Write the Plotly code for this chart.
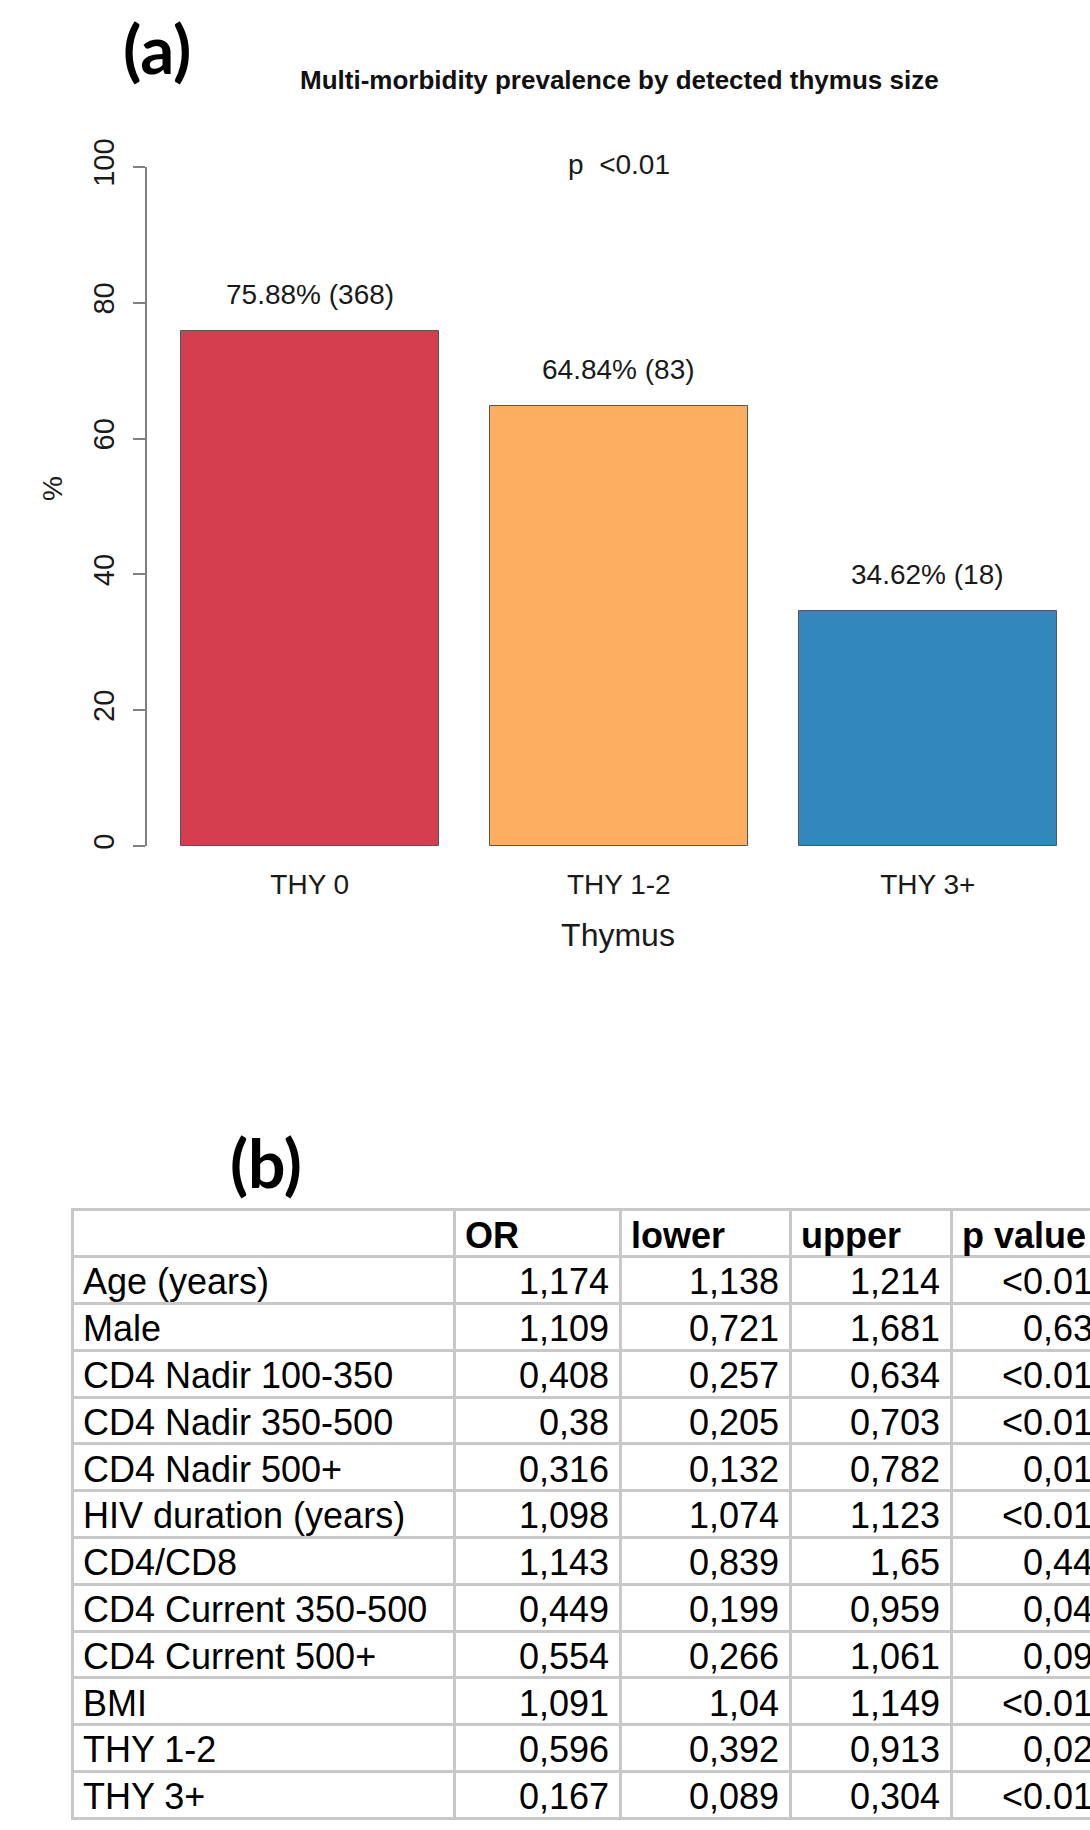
import plotly.graph_objects as go

# ---- panel (a): prevalence by thymus size ----
groups = ["THY 0", "THY 1-2", "THY 3+"]
prevalence = [75.88, 64.84, 34.62]
counts = [368, 83, 18]
bar_colors = ["#D53E4F", "#FDAE61", "#3288BD"]
y_ticks = [0, 20, 40, 60, 80, 100]

# ---- panel (b): odds ratio table ----
header_labels = ["", "OR", "lower", "upper", "p value"]
variables = ["Age (years)", "Male", "CD4 Nadir 100-350", "CD4 Nadir 350-500",
             "CD4 Nadir 500+", "HIV duration (years)", "CD4/CD8",
             "CD4 Current 350-500", "CD4 Current 500+", "BMI", "THY 1-2", "THY 3+"]
odds_ratio = ["1,174", "1,109", "0,408", "0,38", "0,316", "1,098", "1,143",
              "0,449", "0,554", "1,091", "0,596", "0,167"]
ci_lower = ["1,138", "0,721", "0,257", "0,205", "0,132", "1,074", "0,839",
            "0,199", "0,266", "1,04", "0,392", "0,089"]
ci_upper = ["1,214", "1,681", "0,634", "0,703", "0,782", "1,123", "1,65",
            "0,959", "1,061", "1,149", "0,913", "0,304"]
p_values = ["<0.01", "0,63", "<0.01", "<0.01", "0,01", "<0.01", "0,44",
            "0,04", "0,09", "<0.01", "0,02", "<0.01"]

W, H = 1090, 1830
FONT = "Liberation Sans"
TEXT = "#1a1a1a"

# table geometry (pixels on the table's own x axis)
col_edges = [72, 454, 620, 790, 951, 1104]
cell_pad = 11
row_h = 46.8
table_top = 1210
grid_col = "#C8C8C8"
text_drop = 0.11  # nudge cell text down so the glyphs sit centred in each row


def px_x(x):
    return x / W


def px_y(y):
    return 1 - y / H


fig = go.Figure()

fig.add_trace(go.Bar(
    x=groups, y=prevalence, width=0.835,
    marker=dict(color=bar_colors, line=dict(color="#555555", width=1)),
    showlegend=False, hoverinfo="skip",
    xaxis="x", yaxis="y",
))

# value labels above the bars
for g, v, n in zip(groups, prevalence, counts):
    fig.add_annotation(x=g, y=v, xref="x", yref="y", text=f"{v:.2f}% ({n})",
                       showarrow=False, yanchor="middle", yshift=36,
                       font=dict(family=FONT, size=28, color=TEXT))

# overall test result
fig.add_annotation(x="THY 1-2", xref="x", y=px_y(164), yref="paper",
                   text="p\u00a0\u00a0&lt;0.01", showarrow=False, yanchor="middle",
                   font=dict(family=FONT, size=28, color=TEXT))

# chart title
fig.add_annotation(x=px_x(619), y=px_y(80), xref="paper", yref="paper",
                   text="<b>Multi-morbidity prevalence by detected thymus size</b>",
                   showarrow=False, xanchor="center", yanchor="middle",
                   font=dict(family=FONT, size=26, color="#111111"))

# y axis title
fig.add_annotation(x=px_x(52), y=px_y(489), xref="paper", yref="paper",
                   text="%", textangle=-90, showarrow=False,
                   xanchor="center", yanchor="middle",
                   font=dict(family=FONT, size=28, color=TEXT))

# panel letters
fig.add_annotation(x=px_x(157), y=px_y(48), xref="paper", yref="paper",
                   text="<b>(a)</b>", showarrow=False, xanchor="center", yanchor="middle",
                   font=dict(family="Lato", size=67, color="#000000"))
fig.add_annotation(x=px_x(266), y=px_y(1162), xref="paper", yref="paper",
                   text="<b>(b)</b>", showarrow=False, xanchor="center", yanchor="middle",
                   font=dict(family="Lato", size=66, color="#000000"))

# ---- regression table on its own axes: rows on y2, pixel columns on x2 ----
n_rows = len(variables) + 1
table_font = dict(family=FONT, size=36, color="#000000")

# header row (left aligned, bold)
fig.add_trace(go.Scatter(
    x=[col_edges[i] + cell_pad for i in range(1, len(header_labels))],
    y=[0.5 + text_drop] * (len(header_labels) - 1),
    text=[f"<b>{h}</b>" for h in header_labels[1:]],
    mode="text", textposition="middle right", textfont=table_font,
    showlegend=False, hoverinfo="skip", xaxis="x2", yaxis="y2",
))

row_centres = [i + 1.5 + text_drop for i in range(len(variables))]

# variable names (left aligned)
fig.add_trace(go.Scatter(
    x=[col_edges[0] + cell_pad] * len(variables), y=row_centres, text=variables,
    mode="text", textposition="middle right", textfont=table_font,
    showlegend=False, hoverinfo="skip", xaxis="x2", yaxis="y2",
))

# numeric columns (right aligned)
for ci, col in enumerate([odds_ratio, ci_lower, ci_upper, p_values], start=1):
    fig.add_trace(go.Scatter(
        x=[col_edges[ci + 1] - cell_pad] * len(col), y=row_centres,
        text=[s.replace("<", "&lt;") for s in col],
        mode="text", textposition="middle left", textfont=table_font,
        showlegend=False, hoverinfo="skip", xaxis="x2", yaxis="y2",
    ))

edge_pad = 0.04
fig.update_layout(
    template="none",
    width=W, height=H, autosize=False,
    margin=dict(l=0, r=0, t=0, b=0),
    paper_bgcolor="white", plot_bgcolor="white",
    bargap=0,
    xaxis=dict(
        domain=[px_x(146), 1.0], range=[-0.53, 2.525], automargin=False,
        showline=False, showgrid=False, zeroline=False, ticks="",
        tickfont=dict(family=FONT, size=28, color=TEXT),
        ticklabelstandoff=19, anchor="y",
        title=dict(text="Thymus", standoff=24,
                   font=dict(family=FONT, size=32, color=TEXT)),
    ),
    yaxis=dict(
        domain=[px_y(846), px_y(167)], range=[0, 100], automargin=False,
        tickvals=y_ticks, ticks="outside", ticklen=12, tickwidth=1.5,
        tickcolor="#808080", showline=True, linecolor="#808080", linewidth=1.5,
        showgrid=False, zeroline=False, tickangle=-90,
        tickfont=dict(family=FONT, size=29, color=TEXT),
        ticklabelstandoff=8, anchor="free", position=px_x(146),
    ),
    xaxis2=dict(
        domain=[px_x(col_edges[0] - 1.5), 1.0], range=[col_edges[0] - 1.5, W],
        automargin=False, anchor="y2",
        tickvals=col_edges, showgrid=True, gridcolor=grid_col, gridwidth=3,
        showticklabels=False, ticks="", zeroline=False, showline=False,
    ),
    yaxis2=dict(
        domain=[px_y(table_top + n_rows * row_h + edge_pad * row_h),
                px_y(table_top - edge_pad * row_h)],
        range=[n_rows + edge_pad, -edge_pad],
        automargin=False, anchor="x2",
        tickvals=list(range(n_rows + 1)), showgrid=True, gridcolor=grid_col,
        gridwidth=3, showticklabels=False, ticks="", zeroline=False, showline=False,
    ),
)

fig.write_html("out.html")
